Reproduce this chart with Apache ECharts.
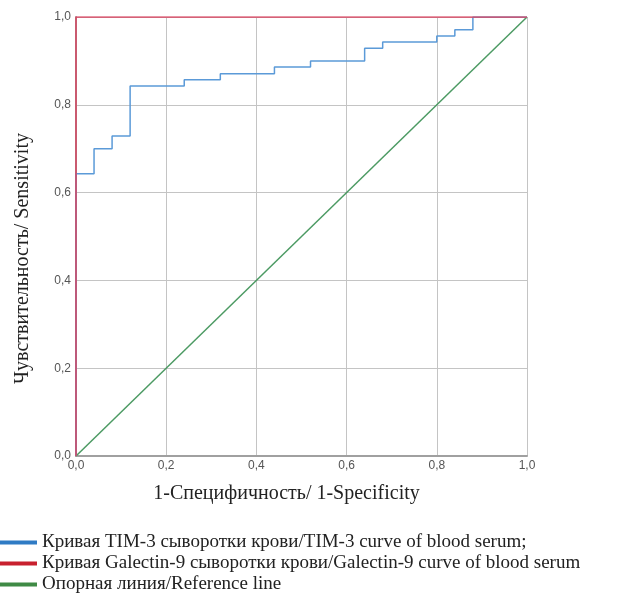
<!DOCTYPE html>
<html><head><meta charset="utf-8">
<script src="https://cdn.jsdelivr.net/npm/echarts@6/dist/echarts.min.js"></script>
<style>html,body{margin:0;padding:0;background:#fff}#c{width:624px;height:596px}</style>
</head><body><div id="c"></div>
<script>
const seriesNames = [
  'Кривая TIM-3 сыворотки крови/TIM-3 curve of blood serum;',
  'Кривая Galectin-9 сыворотки крови/Galectin-9 curve of blood serum',
  'Опорная линия/Reference line'
];
const legendColors = ['#2f7bc4', '#c8202e', '#3f8a45'];
const tim3Fpr = [0, 0, 0.04, 0.08, 0.12, 0.24, 0.32, 0.44, 0.52, 0.64, 0.68, 0.80, 0.84, 0.88, 1.0];
const tim3Tpr = [0, 0.643, 0.700, 0.729, 0.843, 0.857, 0.871, 0.886, 0.900, 0.929, 0.943, 0.957, 0.971, 1.0, 1.0];
const galFpr = [0, 0, 1];
const galTpr = [0, 1, 1];
const refFpr = [0, 1];
const refTpr = [0, 1];
const xTitle = '1-Специфичность/ 1-Specificity';
const yTitle = 'Чувствительность/ Sensitivity';

const zip = (a, b) => a.map((v, i) => [v, b[i]]);
const fmt = v => v.toFixed(1).replace('.', ',');
const serif = 'Liberation Serif';
const legendTops = [533, 554, 575];
const chart = echarts.init(document.getElementById('c'));
chart.setOption({
  animation: false,
  grid: { left: 76, right: 97, top: 17, bottom: 140 },
  xAxis: {
    type: 'value', min: 0, max: 1, interval: 0.2,
    name: xTitle, nameLocation: 'middle', nameGap: 28,
    nameTextStyle: { fontFamily: serif, fontSize: 20, color: '#222', padding: [0, 30, 0, 0] },
    axisLine: { lineStyle: { color: '#a0a0a0', width: 2 } },
    axisTick: { show: false },
    axisLabel: { formatter: fmt, fontFamily: 'Liberation Sans', fontSize: 12, color: '#555', margin: 4 },
    splitLine: { lineStyle: { color: '#c4c4c4', width: 1 } }
  },
  yAxis: {
    type: 'value', min: 0, max: 1, interval: 0.2,
    name: yTitle, nameLocation: 'middle', nameGap: 43,
    nameTextStyle: { fontFamily: serif, fontSize: 20, color: '#222', padding: [0, 44, 0, 0] },
    axisLine: { show: true, lineStyle: { color: '#a0a0a0', width: 2 } },
    axisTick: { show: false },
    axisLabel: { formatter: fmt, fontFamily: 'Liberation Sans', fontSize: 12, color: '#555', margin: 5 },
    splitLine: { lineStyle: { color: '#c4c4c4', width: 1 } }
  },
  legend: seriesNames.map((n, i) => ({
    orient: 'vertical', left: 0, top: legendTops[i], padding: 0,
    itemWidth: 37, itemHeight: 4, icon: 'rect',
    textStyle: { fontFamily: serif, fontSize: 19, color: '#222' },
    data: [{ name: n, itemStyle: { color: legendColors[i] } }]
  })),
  series: [
    { name: seriesNames[0], type: 'line', step: 'end', data: zip(tim3Fpr, tim3Tpr), showSymbol: false,
      lineStyle: { color: '#5b9ad8', width: 1.5 }, itemStyle: { color: '#5b9ad8' }, z: 3 },
    { name: seriesNames[2], type: 'line', data: zip(refFpr, refTpr), showSymbol: false,
      lineStyle: { color: '#4c9a63', width: 1.5 }, itemStyle: { color: '#4c9a63' }, z: 2 },
    { name: seriesNames[1], type: 'line', data: zip(galFpr, galTpr), showSymbol: false,
      lineStyle: { color: '#d8435f', width: 1.5 }, itemStyle: { color: '#d8435f' }, z: 4 }
  ]
});
</script></body></html>
